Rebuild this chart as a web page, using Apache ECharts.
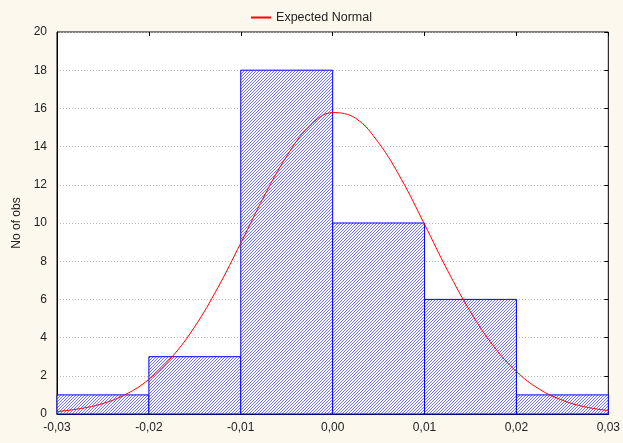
<!DOCTYPE html>
<html>
<head>
<meta charset="utf-8">
<script src="https://cdn.jsdelivr.net/npm/echarts@6/dist/echarts.min.js"></script>
<style>
  html, body { margin: 0; padding: 0; background: #fdf8ed; }
  #chart { width: 623px; height: 443px; }
</style>
</head>
<body>
<div id="chart"></div>
<script>
// histogram bins
const binStart = [-0.03, -0.02, -0.01, 0.00, 0.01, 0.02];
const binEnd = [-0.02, -0.01, 0.00, 0.01, 0.02, 0.03];
const counts = [1, 3, 18, 10, 6, 1];

// expected normal curve
const curveX = [-0.03, -0.0275, -0.025, -0.0225, -0.02, -0.0175, -0.015, -0.0125, -0.01, -0.0075, -0.005, -0.0025, 0.0, 0.0025, 0.005, 0.0075, 0.01, 0.0125, 0.015, 0.0175, 0.02, 0.0225, 0.025, 0.0275, 0.03];
const curveY = [0.13, 0.28, 0.55, 1.03, 1.81, 2.98, 4.58, 6.61, 8.95, 11.36, 13.5, 15.08, 15.78, 15.48, 14.2, 12.27, 9.93, 7.52, 5.35, 3.56, 2.22, 1.3, 0.72, 0.37, 0.18];

// hatch pattern
const makeHatch = () => {
  const c = document.createElement('canvas');
  c.width = 3;
  c.height = 3;
  const ctx = c.getContext('2d');
  ctx.fillStyle = '#ffffff';
  ctx.fillRect(0, 0, 3, 3);
  ctx.strokeStyle = '#4d4dff';
  ctx.lineWidth = 0.8;
  ctx.beginPath();
  ctx.moveTo(-1, 4); ctx.lineTo(4, -1);
  ctx.moveTo(-3, 3); ctx.lineTo(3, -3);
  ctx.moveTo(0, 6); ctx.lineTo(6, 0);
  ctx.stroke();
  return c;
};
const hatch = makeHatch();

const fmt = (v) => v.toFixed(2).replace('.', ',').replace('-0,00', '0,00');

const chart = echarts.init(document.getElementById('chart'));
chart.setOption({
  backgroundColor: '#fdf8ed',
  animation: false,
  textStyle: { fontFamily: 'Liberation Sans, Arial, sans-serif' },
  legend: {
    top: 6,
    left: 'center',
    itemWidth: 20,
    itemHeight: 2,
    textStyle: { color: '#222', fontSize: 12.5 },
    data: [{ name: 'Expected Normal', icon: 'rect', itemStyle: { color: '#ff0000' } }]
  },
  grid: {
    left: 57, right: 14, top: 32, bottom: 29,
    show: true,
    backgroundColor: '#ffffff',
    borderColor: '#000',
    borderWidth: 1
  },
  xAxis: [
    {
      type: 'value',
      min: -0.03, max: 0.03, interval: 0.01,
      axisLine: { onZero: false, lineStyle: { color: '#000' } },
      axisTick: { show: false },
      splitLine: { show: false },
      axisLabel: { color: '#222', fontSize: 12, margin: 8, formatter: fmt }
    },
    {
      type: 'value',
      position: 'top',
      min: -0.03, max: 0.03, interval: 0.01,
      axisLine: { show: false, onZero: false },
      axisTick: { inside: true, length: 4, lineStyle: { color: '#000' } },
      axisLabel: { show: false },
      splitLine: { show: false }
    }
  ],
  yAxis: [
    {
      type: 'value',
      min: 0, max: 20, interval: 2,
      name: 'No of obs',
      nameLocation: 'middle',
      nameGap: 30,
      nameTextStyle: { color: '#222', fontSize: 12 },
      axisLine: { show: true, onZero: false, lineStyle: { color: '#000' } },
      axisTick: { show: false },
      axisLabel: { color: '#222', fontSize: 12, margin: 10 },
      splitLine: { lineStyle: { color: '#b8b8b8', type: [1, 2], width: 1 } }
    },
    {
      type: 'value',
      position: 'right',
      min: 0, max: 20, interval: 2,
      axisLine: { show: false, onZero: false },
      axisTick: { inside: true, length: 4, lineStyle: { color: '#000' } },
      axisLabel: { show: false },
      splitLine: { show: false }
    }
  ],
  series: [
    {
      name: 'hist',
      type: 'custom',
      data: counts.map((c, i) => [binStart[i], binEnd[i], c]),
      renderItem: (params, api) => {
        const p0 = api.coord([api.value(0), api.value(2)]);
        const p1 = api.coord([api.value(1), 0]);
        return {
          type: 'rect',
          shape: { x: p0[0], y: p0[1], width: p1[0] - p0[0], height: p1[1] - p0[1] },
          style: {
            fill: { image: hatch, repeat: 'repeat' },
            stroke: '#0000ff',
            lineWidth: 1
          }
        };
      },
      z: 2
    },
    {
      name: 'Expected Normal',
      type: 'line',
      data: curveX.map((x, i) => [x, curveY[i]]),
      smooth: 0.4,
      showSymbol: false,
      lineStyle: { color: '#ff0000', width: 1 },
      itemStyle: { color: '#ff0000' },
      z: 3
    }
  ]
});
</script>
</body>
</html>
